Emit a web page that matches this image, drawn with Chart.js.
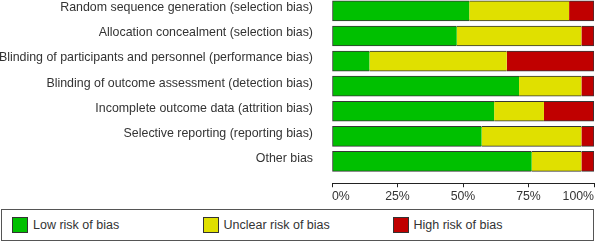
<!DOCTYPE html>
<html>
<head>
<meta charset="utf-8">
<script src="https://cdn.jsdelivr.net/npm/chart.js@4/dist/chart.umd.min.js"></script>
<style>
  html, body { margin: 0; padding: 0; background: #fff; }
  body { width: 597px; height: 243px; position: relative; overflow: hidden; font-family: "Liberation Sans", Arial, sans-serif; }
  #wrap { position: absolute; left: 0; top: 0; width: 597px; height: 206px; }
  #legend { position: absolute; left: 1px; top: 209px; width: 591px; height: 30px; border: 1px solid #555; box-sizing: content-box; }
  .item { position: absolute; top: 7px; height: 16px; font-size: 12.5px; color: #333; line-height: 16px; white-space: nowrap; }
  .sw { position: absolute; left: 0; top: 0; width: 14px; height: 14px; border: 1px solid #333; }
  .txt { position: absolute; left: 21px; top: 0; }
</style>
</head>
<body>
<div id="wrap"><canvas id="c"></canvas></div>
<div id="legend"></div>
<script>
const categories = [
  "Random sequence generation (selection bias)",
  "Allocation concealment (selection bias)",
  "Blinding of participants and personnel (performance bias)",
  "Blinding of outcome assessment (detection bias)",
  "Incomplete outcome data (attrition bias)",
  "Selective reporting (reporting bias)",
  "Other bias"
];
const lowRisk     = [52.4, 47.6, 14.3, 71.4, 61.9, 57.1, 76.2];
const unclearRisk = [38.1, 47.6, 52.4, 23.8, 19.0, 38.1, 19.0];
const highRisk    = [ 9.5,  4.8, 33.3,  4.8, 19.0,  4.8,  4.8];
const seriesNames = ["Low risk of bias", "Unclear risk of bias", "High risk of bias"];
const seriesColors = ["#00c000", "#e0e000", "#c00000"];
const xTicks = [0, 25, 50, 75, 100];

Chart.defaults.font.family = '"Liberation Sans", Arial, sans-serif';
Chart.defaults.font.size = 12;
Chart.defaults.color = '#333';

const edge = '#363636';
function toPts(arr) { return arr.map((v, i) => ({ x: v, y: i })); }

const datasets = [
  { label: seriesNames[0], data: toPts(lowRisk), backgroundColor: seriesColors[0],
    borderWidth: { top: 1, bottom: 1, left: 1, right: 0 } },
  { label: seriesNames[1], data: toPts(unclearRisk), backgroundColor: seriesColors[1],
    borderWidth: { top: 1, bottom: 1, left: 0, right: 0 } },
  { label: seriesNames[2], data: toPts(highRisk), backgroundColor: seriesColors[2],
    borderWidth: { top: 1, bottom: 1, left: 0, right: 1 } }
].map(d => Object.assign(d, { stack: 's', borderColor: edge, borderSkipped: false, barThickness: 20 }));

new Chart(document.getElementById('c'), {
  type: 'bar',
  data: { datasets },
  options: {
    indexAxis: 'y',
    responsive: true,
    maintainAspectRatio: false,
    animation: false,
    layout: { padding: { top: 0, right: 3, left: 0, bottom: 0 } },
    plugins: { legend: { display: false }, tooltip: { enabled: false } },
    scales: {
      x: {
        type: 'linear', min: 0, max: 100, stacked: true, offset: false,
        afterBuildTicks: s => { s.ticks = xTicks.map(v => ({ value: v })); },
        ticks: { callback: v => v + '%', align: 'inner', padding: 2, maxRotation: 0, autoSkip: false, color: '#333', font: { size: 12.3 } },
        grid: { drawOnChartArea: false, tickLength: 4, color: '#222' },
        border: { color: '#222', width: 1 },
        afterFit: s => { s.paddingLeft = 0; s.paddingRight = 0; }
      },
      y: {
        type: 'linear', reverse: true, offset: false, min: -0.433, max: 6.869,
        afterBuildTicks: s => { s.ticks = categories.map((_, i) => ({ value: i })); },
        ticks: { callback: v => categories[v], padding: 11, labelOffset: -3, autoSkip: false, color: '#333', font: { size: 12.4 } },
        grid: { display: false },
        border: { display: false },
        afterFit: s => { s.width = 332; s.paddingTop = 0; s.paddingBottom = 0; }
      }
    }
  }
});

const lg = document.getElementById('legend');
const starts = [10, 200.5, 390.5];
seriesNames.forEach((n, i) => {
  const it = document.createElement('div');
  it.className = 'item';
  it.style.left = starts[i] + 'px';
  const sw = document.createElement('div');
  sw.className = 'sw';
  sw.style.background = seriesColors[i];
  const tx = document.createElement('span');
  tx.className = 'txt';
  tx.textContent = n;
  it.appendChild(sw); it.appendChild(tx);
  lg.appendChild(it);
});
</script>
</body>
</html>
